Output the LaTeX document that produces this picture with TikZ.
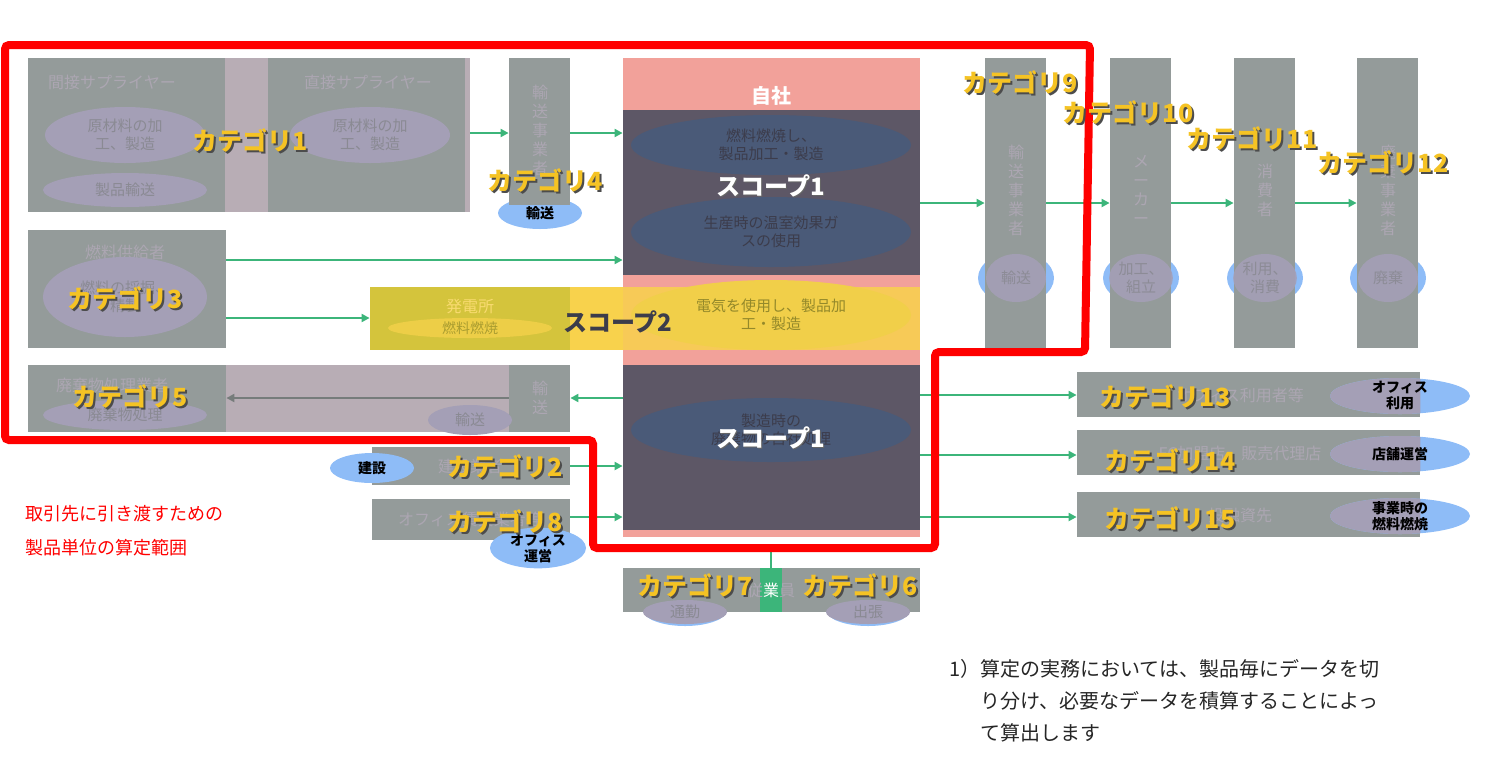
\documentclass[tikz,border=0pt]{standalone}
\usepackage{fontspec}
\setmainfont{Noto Sans CJK JP}
\usetikzlibrary{fit, arrows.meta, shapes.geometric}
\definecolor{scGray}{RGB}{148,155,154}
\definecolor{scMauve}{RGB}{184,173,181}
\definecolor{scLav}{RGB}{164,159,182}
\definecolor{scBlue}{RGB}{142,188,247}
\definecolor{scDark}{RGB}{93,87,102}
\definecolor{scDarkEll}{RGB}{74,90,120}
\definecolor{scPink}{RGB}{242,161,154}
\definecolor{scYellow}{RGB}{248,210,76}
\definecolor{scOlive}{RGB}{212,196,60}
\definecolor{scGreen}{RGB}{60,181,122}
\definecolor{scCat}{RGB}{245,195,36}
\definecolor{scFaint}{RGB}{172,166,178}
\definecolor{scInk}{RGB}{60,60,75}
\tikzset{
    block/.style={inner sep=0pt, fill=#1},
    grayblock/.style={block=scGray},
    lavell/.style={ellipse, fill=scLav, inner sep=0pt, font=\fontsize{7.5}{9}\selectfont, text=scInk!60, align=center},
    blueell/.style={ellipse, fill=scBlue, inner sep=0pt, font=\bfseries\fontsize{7}{8}\selectfont, align=center},
    darkell/.style={ellipse, fill=scDarkEll, inner sep=0pt, font=\fontsize{7.5}{9}\selectfont, text=scInk, align=center},
    title/.style={font=\fontsize{8}{10}\selectfont, text=scFaint, align=center},
    vtitle/.style={font=\fontsize{8}{9.5}\selectfont, text=scFaint, align=center},
    flow/.style={-{Triangle[length=4pt,width=4pt]}, scGreen, line width=1.2pt},
    catlabel/.style={font=\bfseries\fontsize{12.5}{13}\selectfont, text=scCat},
    scope/.style={font=\bfseries\fontsize{12}{13}\selectfont, text=white}
}
\newcommand{\cat}[3]{%
    \node[catlabel, text=black!70] at ([xshift=1pt,yshift=-1pt]#2) {#3};
    \node[catlabel] (#1) at (#2) {#3};}
\begin{document}
\begin{tikzpicture}[x=0.5pt, y=-0.5pt]
    \useasboundingbox (0,0) rectangle (1488,762);

    % Upstream suppliers
    \node[block=scMauve, fit={(28,58) (470,212)}] (band1) {};
    \node[grayblock, fit={(28,58) (225,212)}] (sup1) {};
    \node[grayblock, fit={(268,58) (465,212)}] (sup2) {};
    \node[title] at (112,82) {間接サプライヤー};
    \node[title] at (368,82) {直接サプライヤー};
    \node[lavell, minimum width=80pt, minimum height=28pt] at (125,135) {原材料の加\\工、製造};
    \node[lavell, minimum width=82pt, minimum height=17pt] at (125,190) {製品輸送};
    \node[lavell, minimum width=80pt, minimum height=28pt] at (370,135) {原材料の加\\工、製造};
    \node[blueell, minimum width=42pt, minimum height=16pt] at (540,213) {輸送};
    \node[grayblock, fit={(509,58) (570,205)}] (tr1) {};
    \node[vtitle] at (540,130) {輸\\送\\事\\業\\者};

    % Fuel supplier and power plant
    \node[grayblock, fit={(28,230) (226,348)}] (fuel) {};
    \node[title] at (125,252) {燃料供給者};
    \node[lavell, minimum width=82pt, minimum height=40pt] at (125,297) {燃料の採掘、\\精製};
    \node[block=scYellow, fit={(370,287) (920,350)}] (band2) {};
    \node[block=scOlive, fit={(370,287) (570,350)}] (plant) {};
    \node[title, text=scYellow!80!white] at (470,306) {発電所};
    \node[ellipse, fill=scYellow!70!scOlive, inner sep=0pt, minimum width=82pt, minimum height=10pt, font=\fontsize{7}{8}\selectfont, text=scOlive!80!black] at (470,328) {燃料燃焼};

    % Own company
    \node[block=scPink, fit={(623,58) (920,537)}] (own) {};
    \node[block=scDark, fit={(623,110) (920,275)}] (s1a) {};
    \node[block=scDark, fit={(623,365) (920,530)}] (s1b) {};
    \node[block=scYellow, fill opacity=0.85, fit={(623,287) (920,350)}] (band2b) {};
    \node[font=\bfseries\fontsize{10}{12}\selectfont, text=white] at (771,96) {自社};
    \node[darkell, minimum width=140pt, minimum height=30pt] at (771,145) {燃料燃焼し、\\製品加工・製造};
    \node[darkell, minimum width=140pt, minimum height=35pt] at (771,232) {生産時の温室効果ガ\\スの使用};
    \node[ellipse, fill=scYellow!80!scOlive, inner sep=0pt, minimum width=140pt, minimum height=35pt, font=\fontsize{7.5}{9}\selectfont, text=scOlive!70!black, align=center] at (771,315) {電気を使用し、製品加\\工・製造};
    \node[darkell, minimum width=140pt, minimum height=32pt] at (771,430) {製造時の\\廃棄物の自社処理};
    \node[scope, text=black!60] at (772,187) {スコープ1};
    \node[scope] at (771,186) {スコープ1};
    \node[scope, text=scInk] at (618,322) {スコープ2};
    \node[scope, text=black!60] at (772,439) {スコープ1};
    \node[scope] at (771,438) {スコープ1};

    % Waste
    \node[block=scMauve, fit={(28,365) (570,432)}] (band3) {};
    \node[grayblock, fit={(28,365) (226,432)}] (waste) {};
    \node[grayblock, fit={(509,365) (570,432)}] (tr2) {};
    \node[title] at (112,385) {廃棄物処理業者};
    \node[lavell, minimum width=82pt, minimum height=15pt] at (125,415) {廃棄物処理};
    \node[vtitle] at (540,398) {輸\\送};
    \node[lavell, minimum width=42pt, minimum height=15pt] at (470,420) {輸送};

    % Construction and office
    \node[grayblock, fit={(372,447) (570,485)}] (build) {};
    \node[title] at (470,466) {建設業者};
    \node[blueell, minimum width=42pt, minimum height=15pt] at (372,468) {建設};
    \node[grayblock, fit={(372,499) (570,540)}] (office) {};
    \node[title] at (470,519) {オフィス賃貸業者等};
    \node[blueell, minimum width=48pt, minimum height=18pt] at (538,548) {オフィス\\運営};

    % Employees
    \node[blueell, minimum width=42pt, minimum height=16pt] at (685,610) {通勤};
    \node[blueell, minimum width=42pt, minimum height=16pt] at (868,610) {出張};
    \node[grayblock, fit={(623,568) (760,612)}] (emp1) {};
    \node[grayblock, fit={(782,568) (920,612)}] (emp2) {};
    \node[block=scGreen, fit={(760,568) (782,612)}] (emp) {};
    \node[title] at (771,590) {従\textcolor{white}{業}員};
    \node[lavell, minimum width=42pt, minimum height=12pt] at (685,612) {通勤};
    \node[lavell, minimum width=42pt, minimum height=12pt] at (868,612) {出張};

    % Downstream columns
    \foreach \x/\name/\txt/\ell in {985/dtr/{輸\\送\\事\\業\\者}/{輸送}, 1110/maker/{メ\\ー\\カ\\ー}/{加工、\\組立}, 1234/user/{消\\費\\者}/{利用、\\消費}, 1357/disp/{廃\\棄\\事\\業\\者}/{廃棄}} {
        \node[blueell, minimum width=38pt, minimum height=26pt] at (\x+31,278) {};
        \node[grayblock, fit={(\x,58) (\x+61,348)}] (\name) {};
        \node[vtitle] at (\x+31,190) {\txt};
        \node[lavell, minimum width=30pt, minimum height=24pt, opacity=0.9] at (\x+31,278) {\ell};
    }

    % Downstream rows
    \foreach \y/\name/\txt/\ell in {372/rowA/{オフィス利用者等}/{オフィス\\利用}, 430/rowB/{FC加盟店、販売代理店}/{店舗運営}, 492/rowC/{投融資先}/{事業時の\\燃料燃焼}} {
        \node[grayblock, fit={(1077,\y) (1420,\y+45)}] (\name) {};
        \node[title] at (1240,\y+23) {\txt};
        \node[blueell, minimum width=70pt, minimum height=18pt] (\name e) at (1400,\y+24) {};
        \begin{scope}
            \clip (\name.north west) rectangle (\name.south east);
            \node[ellipse, fill=scLav, inner sep=0pt, minimum width=70pt, minimum height=18pt] at (1400,\y+24) {};
        \end{scope}
        \node[font=\bfseries\fontsize{7}{8}\selectfont, align=center] at (\name e) {\ell};
    }

    % Flows
    \coordinate (f1) at (470,133);
    \draw[flow] (f1) -- (tr1.west |- f1);
    \draw[flow] (tr1.east |- f1) -- (own.west |- f1);
    \draw[flow] (fuel.east |- 0,260) -- (own.west |- 0,260);
    \draw[flow] (fuel.east |- 0,318) -- (plant.west |- 0,318);
    \draw[flow] (own.west |- 0,398) -- (tr2.east |- 0,398);
    \draw[-{Triangle[length=4pt,width=4pt]}, scGray!80!black, line width=1.2pt] (tr2.west |- 0,398) -- (waste.east |- 0,398);
    \draw[flow] (build.east |- 0,466) -- (own.west |- 0,466);
    \draw[flow] (office.east |- 0,517) -- (own.west |- 0,517);
    \draw[scGreen, line width=1.2pt, -{Bar[width=5pt]}] (emp.north) -- (771,548);
    \draw[flow] (own.east |- 0,203) -- (dtr.west |- 0,203);
    \draw[flow] (dtr.east |- 0,203) -- (maker.west |- 0,203);
    \draw[flow] (maker.east |- 0,203) -- (user.west |- 0,203);
    \draw[flow] (user.east |- 0,203) -- (disp.west |- 0,203);
    \draw[flow] (own.east |- 0,395) -- (rowA.west |- 0,395);
    \draw[flow] (own.east |- 0,455) -- (rowB.west |- 0,455);
    \draw[flow] (own.east |- 0,517) -- (rowC.west |- 0,517);

    % Product boundary
    \draw[red, line width=4pt, rounded corners=2pt] (5,45) -- (1090,45) -- (1085,352) -- (935,352) -- (935,548) -- (593,548) -- (593,440) -- (5,440) -- cycle;

    % Categories
    \cat{c1}{250,140}{カテゴリ1}
    \cat{c2}{505,466}{カテゴリ2}
    \cat{c3}{125,298}{カテゴリ3}
    \cat{c4}{545,180}{カテゴリ4}
    \cat{c5}{130,396}{カテゴリ5}
    \cat{c6}{860,585}{カテゴリ6}
    \cat{c7}{695,585}{カテゴリ7}
    \cat{c8}{505,521}{カテゴリ8}
    \cat{c9}{1020,82}{カテゴリ9}
    \cat{c10}{1128,112}{カテゴリ10}
    \cat{c11}{1252,138}{カテゴリ11}
    \cat{c12}{1383,162}{カテゴリ12}
    \cat{c13}{1165,396}{カテゴリ13}
    \cat{c14}{1170,460}{カテゴリ14}
    \cat{c15}{1170,518}{カテゴリ15}

    % Notes
    \node[anchor=north west, text=red, align=left, font=\fontsize{9}{17}\selectfont] (scopenote) at (18,498) {取引先に引き渡すための\\製品単位の算定範囲};
    \node[anchor=north west, align=left, font=\fontsize{10}{16}\selectfont, text=black!85] (footnote) at (942,652) {1）算定の実務においては、製品毎にデータを切\\\phantom{1）}り分け、必要なデータを積算することによっ\\\phantom{1）}て算出します};
\end{tikzpicture}
\end{document}
